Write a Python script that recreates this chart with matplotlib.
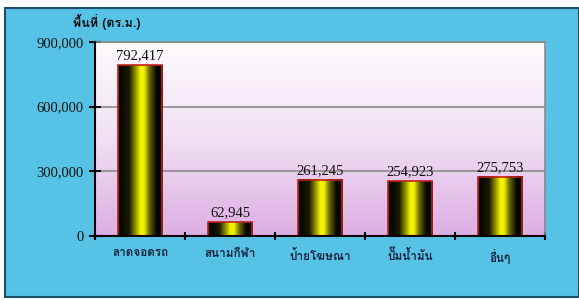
import numpy as np
import matplotlib
matplotlib.use("Agg")
import matplotlib.pyplot as plt
from matplotlib import font_manager
from matplotlib.ft2font import FT2Font
from matplotlib.colors import LinearSegmentedColormap
from matplotlib.patches import Rectangle

categories = ["ลาดจอดรถ", "สนามกีฬา", "ป้ายโฆษณา", "ปั๊มน้ำมัน", "อื่นๆ"]
values = [792417, 62945, 261245, 254923, 275753]
value_labels = ["792,417", "62,945", "261,245", "254,923", "275,753"]
yticks = [0, 300000, 600000, 900000]
ytick_labels = ["0", "300,000", "600,000", "900,000"]
ylabel = "พื้นที่ (ตร.ม.)"

# find a font with Thai glyphs
thai_font = None
for f in font_manager.fontManager.ttflist:
    try:
        cm = FT2Font(f.fname).get_charmap()
        if 0x0E01 in cm and 0x0E49 in cm:
            thai_font = f.name
            break
    except Exception:
        pass
thai_family = [thai_font, "DejaVu Sans"] if thai_font else ["DejaVu Sans"]
num_family = ["Liberation Serif", "DejaVu Serif"]

fig = plt.figure(figsize=(5.79, 3.0), dpi=100)
fig.patch.set_facecolor("white")

# blue panel
panel = Rectangle((5 / 579, 3 / 300), 1 - 5 / 579, 1 - 11 / 300, transform=fig.transFigure,
                  facecolor="#56c3e6", edgecolor="#1d4f6a", linewidth=1.5, zorder=-10)
fig.patches.append(panel)

ax = fig.add_axes([95 / 579, 1 - 236 / 300, 450 / 579, 194 / 300])
ax.set_zorder(1)
ax.set_facecolor("none")
x = np.arange(len(categories))
ax.set_xlim(-0.5, len(categories) - 0.5)
ax.set_ylim(0, 900000)

# background gradient (white top -> lilac bottom)
bg_cmap = LinearSegmentedColormap.from_list("bg", ["#fdfbfd", "#f1e0f3", "#dcaee3"])
grad = np.linspace(0, 1, 256).reshape(-1, 1)
ax.imshow(grad, aspect="auto", cmap=bg_cmap, extent=(-0.5, len(categories) - 0.5, 0, 900000),
          origin="upper", zorder=0)

# grid
for t in yticks[1:]:
    ax.axhline(t, color="#8a8a8a", linewidth=1.2, zorder=1)

bars = ax.bar(x, values, width=0.49, facecolor="none", edgecolor="#c0201a", linewidth=1.2, zorder=3)
bar_cmap = LinearSegmentedColormap.from_list(
    "bar", [(0.0, "#000000"), (0.25, "#1a1a00"), (0.4, "#9a9a00"), (0.5, "#f5f500"),
            (0.58, "#f0f000"), (0.7, "#6a6a00"), (0.85, "#0a0a00"), (1.0, "#000000")])
hgrad = np.linspace(0, 1, 256).reshape(1, -1)
for b in bars:
    bx, bw, bh = b.get_x(), b.get_width(), b.get_height()
    ax.imshow(hgrad, aspect="auto", cmap=bar_cmap, extent=(bx, bx + bw, 0, bh), zorder=2)

for xi, v, lab in zip(x, values, value_labels):
    ax.annotate(lab, (xi, v), xytext=(0, 2), textcoords="offset points", ha="center", va="bottom",
                fontsize=10.5, family=num_family, color="#111111")

ax.set_yticks(yticks)
ax.set_yticklabels(ytick_labels, family=num_family, fontsize=10.5, color="#111111")
ax.set_xticks(x)
ax.set_xticklabels(categories, family=thai_family, fontsize=8.5, color="#1a2540", fontweight="bold")
ax.set_xticks(np.arange(-0.5, len(categories), 1.0), minor=True)
ax.tick_params(axis="x", which="major", length=0, pad=9)
ax.tick_params(axis="x", which="minor", length=6, direction="inout", width=1.5, color="black")
ax.tick_params(axis="y", length=8, direction="inout", width=1.5, color="black", pad=4)

for s in ["left", "bottom"]:
    ax.spines[s].set_color("black")
    ax.spines[s].set_linewidth(1.5)
    ax.spines[s].set_zorder(5)
for s in ["top", "right"]:
    ax.spines[s].set_color("#8a8a8a")
    ax.spines[s].set_linewidth(1.2)

fig.text(107 / 579, 1 - 22 / 300, ylabel, ha="center", va="center", family=thai_family,
         fontsize=9, fontweight="bold", color="#111111")

fig.savefig("out.png", dpi=100)
